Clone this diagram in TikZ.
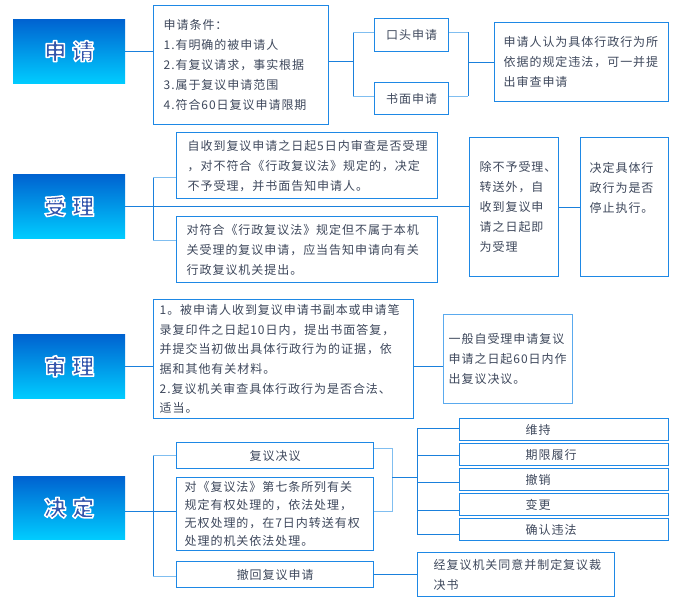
\documentclass[tikz,border=0pt]{standalone}
\usepackage{fontspec}
\setmainfont{Noto Sans CJK SC}
\newfontfamily\cjkf{Noto Sans CJK SC}[LetterSpace=8]
\newfontfamily\stgf{Noto Sans CJK SC}
\definecolor{bdr}{RGB}{30,136,229}
\definecolor{bdrlight}{RGB}{90,170,238}
\definecolor{lnc}{RGB}{26,128,220}
\definecolor{ltc}{RGB}{128,190,240}
\definecolor{txt}{RGB}{62,72,92}
\definecolor{stg}{RGB}{52,86,172}
\definecolor{stgtop}{RGB}{0,98,208}
\definecolor{stgmid}{RGB}{0,165,242}
\definecolor{stgbot}{RGB}{0,204,255}
\newcommand\outl[1]{\special{pdf:literal direct 2 Tr 1.5 w 1 j 1 1 1 RG}#1\special{pdf:literal direct 0 Tr}}
\tikzset{
  bx/.style={draw=bdr, line width=1.3pt, text=txt, font=\cjkf\fontsize{12pt}{20pt}\selectfont,
    anchor=north west, inner ysep=0pt, align=left},
  stage/.style={anchor=north west, minimum width=112pt, minimum height=64pt, inner sep=0pt,
    top color=stgtop, middle color=stgmid, bottom color=stgbot, text=stg,
    font=\stgf\bfseries\fontsize{22pt}{24pt}\selectfont},
  ln/.style={draw=lnc, line width=1pt},
  lt/.style={draw=ltc, line width=1pt}
}
\begin{document}
\begin{tikzpicture}[x=1pt,y=-1pt]
\useasboundingbox[fill=white] (0,0) rectangle (675,606);
% stages
\node[stage] (S1) at (13,19) {\outl{申\hspace{6pt}请}};
\node[stage] (S2) at (13,174) {\outl{受\hspace{6pt}理}};
\node[stage] (S3) at (13,334) {\outl{审\hspace{6pt}理}};
\node[stage, minimum height=63pt] (S4) at (13,476) {\outl{决\hspace{6pt}定}};
% 申请
\node[bx, minimum width=175pt, minimum height=119pt, text width=155pt, inner xsep=10pt] (A1) at (153,5)
  {申请条件：\\1.有明确的被申请人\\2.有复议请求，事实根据\\3.属于复议申请范围\\4.符合60日复议申请限期};
\node[bx, align=center, minimum width=74pt, minimum height=33pt, inner xsep=0pt] (A2) at (374,18) {口头申请};
\node[bx, align=center, minimum width=74pt, minimum height=32pt, inner xsep=0pt] (A3) at (374,82) {书面申请};
\node[bx, minimum width=174pt, minimum height=79pt, text width=156pt, inner xsep=9pt] (A4) at (494,22)
  {申请人认为具体行政行为所\\依据的规定违法，可一并提\\出审查申请};
% 受理
\node[bx, minimum width=261pt, minimum height=66pt, text width=239pt, inner xsep=11pt] (B1) at (176,132)
  {自收到复议申请之日起5日内审查是否受理\\，对不符合《行政复议法》规定的，决定\\不予受理，并书面告知申请人。};
\node[bx, minimum width=261pt, minimum height=66pt, text width=241pt, inner xsep=10pt] (B2) at (176,216)
  {对符合《行政复议法》规定但不属于本机\\关受理的复议申请，应当告知申请向有关\\行政复议机关提出。};
\node[bx, minimum width=89pt, minimum height=139pt, text width=69pt, inner xsep=10pt] (B3) at (469,137)
  {除不予受理、\\转送外，自\\收到复议申\\请之日起即\\为受理};
\node[bx, minimum width=88pt, minimum height=139pt, text width=70pt, inner xsep=9pt] (B4) at (580,137)
  {决定具体行\\政行为是否\\停止执行。\\\mbox{}\\\mbox{}};
% 审理
\node[bx, minimum width=260pt, minimum height=119pt, text width=248pt, inner xsep=6pt,
  font=\cjkf\fontsize{12pt}{19.6pt}\selectfont] (C1) at (153,299)
  {1。被申请人收到复议申请书副本或申请笔\\录复印件之日起10日内，提出书面答复，\\并提交当初做出具体行政行为的证据，依\\据和其他有关材料。\\2.复议机关审查具体行政行为是否合法、\\适当。};
\node[bx, draw=bdrlight, minimum width=129pt, minimum height=89pt, text width=119pt, inner xsep=5pt] (C2) at (443,314)
  {一般自受理申请复议\\申请之日起60日内作\\出复议决议。};
% 决定
\node[bx, align=center, minimum width=197pt, minimum height=26pt, inner xsep=0pt] (D1) at (176,442) {复议决议};
\node[bx, minimum width=197pt, minimum height=73pt, text width=181pt, inner xsep=8pt,
  font=\cjkf\fontsize{12pt}{18pt}\selectfont] (D2) at (176,477)
  {对《复议法》第七条所列有关\\规定有权处理的，依法处理，\\无权处理的，在7日内转送有权\\处理的机关依法处理。};
\node[bx, align=center, minimum width=197pt, minimum height=26pt, inner xsep=0pt] (D3) at (176,561) {撤回复议申请};
\node[bx, minimum width=209pt, minimum height=22pt, text width=77pt, inner xsep=66pt] (E1) at (459,418) {维持};
\node[bx, minimum width=209pt, minimum height=22pt, text width=77pt, inner xsep=66pt] (E2) at (459,443) {期限履行};
\node[bx, minimum width=209pt, minimum height=22pt, text width=77pt, inner xsep=66pt] (E3) at (459,468) {撤销};
\node[bx, minimum width=209pt, minimum height=22pt, text width=77pt, inner xsep=66pt] (E4) at (459,493) {变更};
\node[bx, minimum width=209pt, minimum height=22pt, text width=77pt, inner xsep=66pt] (E5) at (459,518) {确认违法};
\node[bx, minimum width=197pt, minimum height=44pt, text width=165pt, inner xsep=16pt] (F) at (417,552)
  {经复议机关同意并制定复议裁\\决书};
% junction coordinates
\coordinate (j1m) at (353,61);
\coordinate (j1t) at (353,32);
\coordinate (j1b) at (353,96);
\coordinate (j2t) at (468,32);
\coordinate (j2b) at (468,96);
\coordinate (k1t) at (153,177);
\coordinate (k1b) at (153,240);
\coordinate (m1t) at (153,455);
\coordinate (m1b) at (153,576);
\coordinate (m1c) at (153,511);
\coordinate (n0) at (392,448);
\coordinate (n1) at (392,477);
\coordinate (n2) at (392,511);
\coordinate (q1) at (417,428);
\coordinate (q2) at (417,455);
\coordinate (q3) at (417,482);
\coordinate (q4) at (417,510);
\coordinate (q5) at (417,534);
% connectors 申请
\draw[ln] (S1.east) -- (S1.east -| A1.west);
\draw[ln] (j1m -| A1.east) -- (j1m);
\draw[ln] (j1t) -- (j1b);
\draw[lt] (j1t) -- (j1t -| A2.west);
\draw[lt] (j1b) -- (j1b -| A3.west);
\draw[lt] (j2t -| A2.east) -- (j2t);
\draw[lt] (j2b -| A3.east) -- (j2b);
\draw[ln] (j2t) -- (j2b);
\draw[ln] (A4.west -| j2t) -- (A4.west);
% connectors 受理
\draw[ln] (S2.east) -- (S2.east -| B3.west);
\draw[ln] (k1t) -- (k1b);
\draw[lt] (k1t) -- (k1t -| B1.west);
\draw[lt] (k1b) -- (k1b -| B2.west);
\draw[ln] (B3.east) -- (B4.west);
% connectors 审理
\draw[ln] (S3.east) -- (S3.east -| C1.west);
\draw[ln] (S3.east -| C1.east) -- (S3.east -| C2.west);
% connectors 决定
\draw[ln] (m1c -| S4.east) -- (m1c -| D2.west);
\draw[ln] (m1t) -- (m1b);
\draw[lt] (m1t) -- (m1t -| D1.west);
\draw[lt] (m1b) -- (m1b -| D3.west);
\draw[lt] (n0 -| D1.east) -- (n0) -- (n2) -- (n2 -| D2.east);
\draw[ln] (n1) -- (n1 -| q1);
\draw[ln] (q1) -- (q5);
\draw[ln] (q1) -- (q1 -| E1.west);
\draw[ln] (q2) -- (q2 -| E2.west);
\draw[ln] (q3) -- (q3 -| E3.west);
\draw[ln] (q4) -- (q4 -| E4.west);
\draw[ln] (q5) -- (q5 -| E5.west);
\draw[ln] (D3.east) -- (D3.east -| F.west);
\end{tikzpicture}
\end{document}
